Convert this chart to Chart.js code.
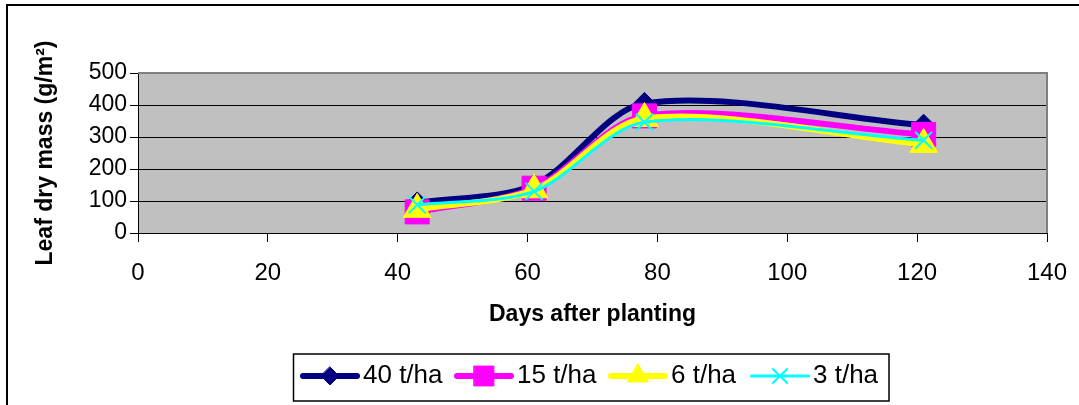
<!DOCTYPE html>
<html>
<head>
<meta charset="utf-8">
<title>Leaf dry mass</title>
<script src="https://cdn.jsdelivr.net/npm/chart.js@4/dist/chart.umd.min.js"></script>
<style>
  html, body { margin: 0; padding: 0; background: #fff; }
  #wrap { width: 1079px; height: 405px; }
</style>
</head>
<body>
<div id="wrap"><canvas id="chart" width="1079" height="405"></canvas></div>
<script>
// Sampling days and leaf dry mass (g/m²) per treatment
const days = [43, 61, 78, 121];
const mass40 = [94, 150, 405, 337];
const mass15 = [66, 140, 366, 308];
const mass6 = [74, 135, 358, 277];
const mass3 = [88, 130, 346, 290];
const seriesNames = ['40 t/ha', '15 t/ha', '6 t/ha', '3 t/ha'];
const xTickValues = [0, 20, 40, 60, 80, 100, 120, 140];
const yTickValues = [0, 100, 200, 300, 400, 500];

const FONT = "'Liberation Sans', Arial, Helvetica, sans-serif";
Chart.defaults.font.family = FONT;
Chart.defaults.color = '#000';

const toPoints = vals => days.map((d, i) => ({ x: d, y: vals[i] }));

const seriesStyle = [
  { color: '#000080', pointStyle: 'rectRot',  radius: 11, legendRadius: 9,  width: 6, pw: 1 },
  { color: '#FF00FF', pointStyle: 'rect',     radius: 17, legendRadius: 14, width: 6, pw: 1 },
  { color: '#FFFF00', pointStyle: 'triangle', radius: 16, legendRadius: 12, width: 6, pw: 1 },
  { color: '#00FFFF', pointStyle: 'crossRot', radius: 12, legendRadius: 10, width: 3, pw: 2 }
];
const seriesValues = [mass40, mass15, mass6, mass3];

const datasets = seriesValues.map((vals, i) => {
  const s = seriesStyle[i];
  return {
    label: seriesNames[i],
    data: toPoints(vals),
    borderColor: s.color,
    backgroundColor: s.color,
    borderWidth: s.width,
    tension: 0.3,
    pointStyle: s.pointStyle,
    pointRadius: s.radius,
    pointHoverRadius: s.radius,
    pointBorderWidth: s.pw,
    pointBorderColor: s.color,
    pointBackgroundColor: s.color,
    order: seriesValues.length - i,
    clip: false
  };
});

// Page frame, grey plot background and plot border
const framePlugin = {
  id: 'frame',
  beforeDraw(chart) {
    const { ctx, chartArea: a } = chart;
    ctx.save();
    ctx.fillStyle = '#fff';
    ctx.fillRect(0, 0, chart.width, chart.height);
    ctx.strokeStyle = '#000';
    ctx.lineWidth = 2;
    ctx.beginPath();
    ctx.moveTo(7, chart.height + 2);
    ctx.lineTo(7, 5);
    ctx.lineTo(chart.width + 2, 5);
    ctx.stroke();
    ctx.fillStyle = '#C0C0C0';
    ctx.fillRect(a.left, a.top, a.right - a.left, a.bottom - a.top);
    ctx.restore();
  },
  beforeDatasetsDraw(chart) {
    const { ctx, chartArea: a } = chart;
    ctx.save();
    ctx.strokeStyle = '#808080';
    ctx.lineWidth = 2;
    ctx.beginPath();
    ctx.moveTo(a.left, a.top);
    ctx.lineTo(a.right, a.top);
    ctx.lineTo(a.right, a.bottom);
    ctx.stroke();
    ctx.restore();
  }
};

function drawMarker(ctx, style, x, y, r, color, lw) {
  ctx.save();
  ctx.fillStyle = color;
  ctx.strokeStyle = color;
  ctx.lineWidth = lw;
  ctx.beginPath();
  if (style === 'rectRot') {
    ctx.moveTo(x, y - r); ctx.lineTo(x + r, y); ctx.lineTo(x, y + r); ctx.lineTo(x - r, y);
    ctx.closePath(); ctx.fill(); ctx.stroke();
  } else if (style === 'rect') {
    const h = r * Math.SQRT1_2;
    ctx.rect(x - h, y - h, 2 * h, 2 * h); ctx.fill(); ctx.stroke();
  } else if (style === 'triangle') {
    ctx.moveTo(x, y - r);
    ctx.lineTo(x + r * 0.866, y + r * 0.5);
    ctx.lineTo(x - r * 0.866, y + r * 0.5);
    ctx.closePath(); ctx.fill(); ctx.stroke();
  } else if (style === 'crossRot') {
    const h = r * Math.SQRT1_2;
    ctx.moveTo(x - h, y - h); ctx.lineTo(x + h, y + h);
    ctx.moveTo(x + h, y - h); ctx.lineTo(x - h, y + h);
    ctx.stroke();
  }
  ctx.restore();
}

// Boxed legend below the axis title: line sample, marker, label
const legendPlugin = {
  id: 'boxLegend',
  afterDraw(chart) {
    const { ctx } = chart;
    const box = { left: 293.5, top: 354, right: 889, bottom: 401 };
    const itemStarts = [300, 454, 608, 750];
    const lineLen = 60;
    const cy = 376;
    ctx.save();
    ctx.strokeStyle = '#000';
    ctx.lineWidth = 1.5;
    ctx.strokeRect(box.left, box.top, box.right - box.left, box.bottom - box.top);
    ctx.font = '26px ' + FONT;
    ctx.textBaseline = 'middle';
    ctx.textAlign = 'left';
    chart.data.datasets.forEach((ds, i) => {
      const s = seriesStyle[i];
      const x0 = itemStarts[i];
      ctx.strokeStyle = s.color;
      ctx.lineWidth = s.width;
      ctx.lineCap = 'round';
      ctx.beginPath();
      ctx.moveTo(x0 + s.width / 2, cy);
      ctx.lineTo(x0 + lineLen - s.width / 2, cy);
      ctx.stroke();
      drawMarker(ctx, s.pointStyle, x0 + lineLen / 2, cy, s.legendRadius, s.color, s.pw);
      ctx.fillStyle = '#000';
      ctx.fillText(ds.label, x0 + lineLen + 3, cy);
    });
    ctx.restore();
  }
};

new Chart(document.getElementById('chart'), {
  type: 'line',
  data: { datasets },
  options: {
    responsive: false,
    animation: false,
    events: [],
    layout: { padding: { left: 0, top: 73, right: 32, bottom: 77 } },
    plugins: { legend: { display: false }, tooltip: { enabled: false } },
    scales: {
      x: {
        type: 'linear',
        position: 'bottom',
        min: 0,
        max: 140,
        afterBuildTicks: scale => { scale.ticks = xTickValues.map(v => ({ value: v })); },
        afterFit: scale => {
          scale.height = 95;
          scale.paddingLeft = 0;
          scale.paddingRight = 0;
        },
        ticks: { font: { size: 24 }, color: '#000', padding: 17, maxRotation: 0, autoSkip: false },
        grid: { drawOnChartArea: false, drawTicks: true, tickLength: 9, color: '#000', lineWidth: 1 },
        border: { color: '#000', width: 1 },
        title: {
          display: true,
          text: 'Days after planting',
          color: '#000',
          font: { size: 23, weight: 'bold' },
          padding: { top: 0, bottom: 0 }
        }
      },
      y: {
        type: 'linear',
        min: 0,
        max: 500,
        afterBuildTicks: scale => { scale.ticks = yTickValues.map(v => ({ value: v })); },
        afterFit: scale => { scale.width = 138; },
        ticks: { font: { size: 23 }, color: '#000', padding: 3 },
        grid: { color: '#000', lineWidth: 1, tickLength: 8 },
        border: { color: '#000', width: 1 },
        title: {
          display: true,
          text: 'Leaf dry mass (g/m²)',
          color: '#000',
          font: { size: 23, weight: 'bold' },
          padding: { top: 32, bottom: 0 }
        }
      }
    }
  },
  plugins: [framePlugin, legendPlugin]
});
</script>
</body>
</html>
